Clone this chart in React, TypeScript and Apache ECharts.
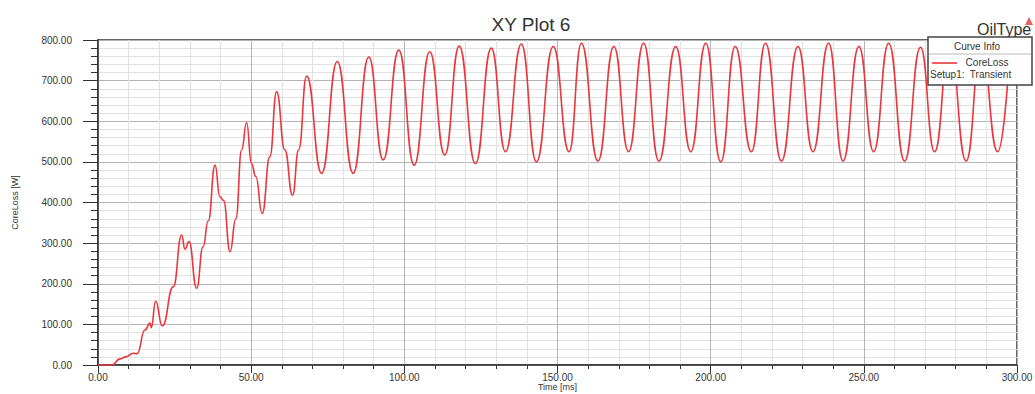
import React, { useEffect, useRef } from "react";
import * as echarts from "echarts";

// Time [ms]
const timeMs: number[] = [
  0, 4.5, 7.2, 9, 11.5, 12.8, 15.3, 17, 17.4, 18.8, 21, 24.6, 27.3, 28.4, 29.7, 32.2,
  34.3, 36, 38.2, 39.8, 41, 43.1, 45, 46.9, 48.5, 50.1, 51.5, 53.6, 56.1, 58.3, 61,
  63.5, 65.5, 68.1, 73, 78.1, 83.3, 88.4, 93.1, 98.2, 103.2, 108.3, 113.2, 117.9,
  123.2, 128.4, 133, 138.2, 143.1, 148.6, 153.8, 157.8, 163.2, 168.4, 173.2, 178.1,
  183.1, 188.6, 193.5, 198.4, 203.3, 208, 213.3, 217.9, 223.1, 228.5, 233.4, 238.5,
  243.2, 248.4, 253.2, 258.1, 263.3, 268.5, 273.1, 278, 283.4, 288.3, 293.7, 297,
];

// CoreLoss [W]
const coreLoss: number[] = [
  0, 0, 15, 20, 29, 28, 86, 103, 92, 157, 96, 193, 320, 285, 304, 189,
  291, 355, 492, 414, 405, 279, 360, 530, 597, 496, 464, 373, 513, 673, 529,
  418, 530, 711, 472, 747, 472, 758, 505, 775, 492, 771, 517, 785,
  496, 780, 525, 790, 500, 784, 525, 792, 502, 784, 525, 792,
  502, 784, 525, 792, 500, 784, 525, 792, 502, 784, 525, 792,
  502, 784, 525, 792, 502, 782, 525, 790, 502, 784, 525, 700,
];

const chartTitle = "XY Plot 6";
const cornerLabel = "OilType";
const seriesName = "CoreLoss";
const setupLabel = "Setup1:  Transient";
const legendHeader = "Curve Info";
const xAxisName = "Time [ms]";
const yAxisName = "CoreLoss [W]";

export default function App() {
  const ref = useRef<HTMLDivElement>(null);

  useEffect(() => {
    if (!ref.current) return;
    const chart = echarts.init(ref.current, undefined, { renderer: "svg" });
    const data = timeMs.map((t, i) => [t, coreLoss[i]]);
    const font = "Liberation Sans, Arial, sans-serif";
    const red = "#e8383d";

    chart.setOption({
      animation: false,
      backgroundColor: "#ffffff",
      textStyle: { fontFamily: font },
      grid: {
        left: 98,
        right: 18,
        top: 40,
        bottom: 29,
        containLabel: false,
        outerBoundsMode: "none",
        show: true,
        borderColor: "#333",
        borderWidth: 1.5,
        backgroundColor: "transparent",
      },
      xAxis: {
        type: "value",
        min: 0,
        max: 300,
        interval: 50,
        name: xAxisName,
        nameLocation: "middle",
        nameGap: 17,
        nameMoveOverlap: false,
        nameTextStyle: { fontSize: 9, color: "#333", fontFamily: font, verticalAlign: "top" },
        axisLine: { lineStyle: { color: "#333", width: 1.5 } },
        axisTick: { length: 8, lineStyle: { color: "#333" } },
        minorTick: { show: true, splitNumber: 5, length: 4, lineStyle: { color: "#333" } },
        splitLine: { show: true, lineStyle: { color: "#b4b4b4", width: 1 } },
        minorSplitLine: { show: true, lineStyle: { color: "#e2e2e2", width: 1 } },
        axisLabel: {
          formatter: (v: number) => v.toFixed(2),
          fontSize: 10,
          color: "#333",
          margin: 7,
          fontFamily: font,
        },
      },
      yAxis: {
        type: "value",
        min: 0,
        max: 800,
        interval: 100,
        name: yAxisName,
        nameLocation: "middle",
        nameGap: 79,
        nameMoveOverlap: false,
        nameTextStyle: { fontSize: 9, color: "#333", fontFamily: font },
        axisLine: { show: true, lineStyle: { color: "#333", width: 1.5 } },
        axisTick: { show: true, length: 15, lineStyle: { color: "#333" } },
        minorTick: { show: true, splitNumber: 5, length: 7, lineStyle: { color: "#333" } },
        splitLine: { show: true, lineStyle: { color: "#b4b4b4", width: 1 } },
        minorSplitLine: { show: true, lineStyle: { color: "#e2e2e2", width: 1 } },
        axisLabel: {
          formatter: (v: number) => v.toFixed(2),
          fontSize: 10,
          color: "#333",
          margin: 26,
          fontFamily: font,
        },
      },
      series: [
        {
          type: "line",
          name: seriesName,
          data,
          smooth: 0.5,
          smoothMonotone: "x",
          showSymbol: false,
          lineStyle: { color: red, width: 1.6 },
          z: 3,
        },
      ],
      graphic: [
        {
          type: "text",
          x: 531,
          y: 15,
          style: {
            text: chartTitle,
            fill: "#333",
            font: `19px ${font}`,
            textAlign: "center",
          },
        },
        {
          type: "text",
          x: 977,
          y: 21,
          style: { text: cornerLabel, fill: "#333", font: `16px ${font}` },
        },
        {
          type: "polygon",
          shape: { points: [[1029, 17], [1025, 25], [1033, 25]] },
          style: { fill: "#e06464" },
          z: 10,
        },
        {
          type: "group",
          z: 20,
          children: [
            {
              type: "rect",
              shape: { x: 928, y: 37, width: 104, height: 48 },
              style: { fill: "#ffffff", stroke: "#444", lineWidth: 1.5 },
              z: 20,
            },
            {
              type: "line",
              shape: { x1: 929, y1: 54, x2: 1031, y2: 54 },
              style: { stroke: "#bbb", lineWidth: 1 },
              z: 21,
            },
            {
              type: "text",
              x: 977,
              y: 41,
              style: {
                text: legendHeader,
                fill: "#333",
                font: `10px ${font}`,
                textAlign: "center",
              },
              z: 21,
            },
            {
              type: "line",
              shape: { x1: 932, y1: 63, x2: 957, y2: 63 },
              style: { stroke: red, lineWidth: 1.6 },
              z: 21,
            },
            {
              type: "text",
              x: 987,
              y: 57,
              style: {
                text: seriesName,
                fill: "#333",
                font: `10px ${font}`,
                textAlign: "center",
              },
              z: 21,
            },
            {
              type: "text",
              x: 930,
              y: 69,
              style: { text: setupLabel, fill: "#333", font: `10px ${font}` },
              z: 21,
            },
          ],
        },
      ],
    });

    return () => chart.dispose();
  }, []);

  return (
    <div
      ref={ref}
      style={{ position: "fixed", left: 0, top: 0, width: 1035, height: 394, background: "#fff" }}
    />
  );
}
